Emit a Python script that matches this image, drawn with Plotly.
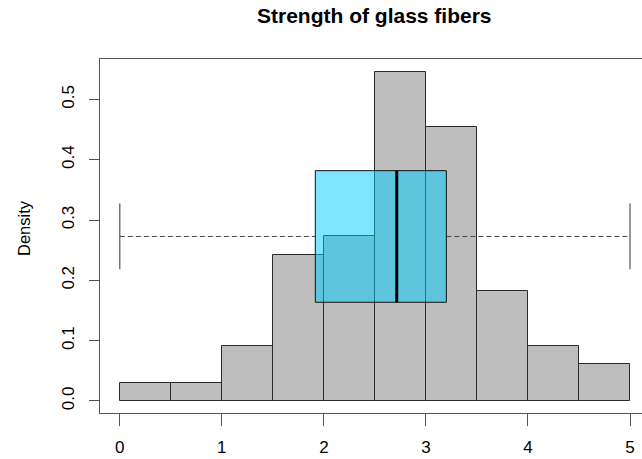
import plotly.graph_objects as go

# Histogram of fibre strength (density scale)
bin_edges = [0.0, 0.5, 1.0, 1.5, 2.0, 2.5, 3.0, 3.5, 4.0, 4.5, 5.0]
densities = [0.0303, 0.0303, 0.0909, 0.2424, 0.2727, 0.5455, 0.4545, 0.1818, 0.0909, 0.0606]

# Five-number summary drawn as a horizontal box plot over the histogram
whisker_low = 0.0
q1 = 1.916
median = 2.714
q3 = 3.20
whisker_high = 5.0

x_ticks = [0, 1, 2, 3, 4, 5]
y_ticks = [0.0, 0.1, 0.2, 0.3, 0.4, 0.5]
y_tick_text = ["0.0", "0.1", "0.2", "0.3", "0.4", "0.5"]

FONT = "Liberation Sans, Arial, sans-serif"
W, H = 642, 459
ML, MR, MT, MB = 100, 0, 59, 46
plot_h = H - MT - MB

centers = [(a + b) / 2 for a, b in zip(bin_edges[:-1], bin_edges[1:])]
widths = [b - a for a, b in zip(bin_edges[:-1], bin_edges[1:])]

# box placement: centred at half the tallest bar, like boxplot(add=TRUE, at=...)
top = max(densities)
y_mid = top / 2
box_half = 0.2 * top
cap_half = 0.1 * top

fig = go.Figure()

fig.add_trace(go.Bar(
    x=centers, y=densities, width=widths,
    marker=dict(color="#BEBEBE", line=dict(color="#2a2a2a", width=1)),
    hoverinfo="skip", showlegend=False,
))

# box body
fig.add_trace(go.Scatter(
    x=[q1, q3, q3, q1, q1],
    y=[y_mid - box_half, y_mid - box_half, y_mid + box_half, y_mid + box_half, y_mid - box_half],
    mode="lines", fill="toself", fillcolor="rgba(0,204,255,0.5)",
    line=dict(color="#111111", width=1), hoverinfo="skip", showlegend=False,
))

# median
fig.add_trace(go.Scatter(
    x=[median, median], y=[y_mid - box_half, y_mid + box_half],
    mode="lines", line=dict(color="black", width=3),
    hoverinfo="skip", showlegend=False,
))

# dashed whiskers
for a, b in [(whisker_low, q1), (q3, whisker_high)]:
    fig.add_trace(go.Scatter(
        x=[a, b], y=[y_mid, y_mid], mode="lines",
        line=dict(color="#444444", width=1, dash="5px,3px"),
        hoverinfo="skip", showlegend=False,
    ))

# whisker staples
for w in [whisker_low, whisker_high]:
    fig.add_trace(go.Scatter(
        x=[w, w], y=[y_mid - cap_half, y_mid + cap_half], mode="lines",
        line=dict(color="#555555", width=1.2),
        hoverinfo="skip", showlegend=False,
    ))

x0_px, x5_px = 119.8, 630.0
ppu = (x5_px - x0_px) / 5.0
x_range = [(ML - x0_px) / ppu, (W - MR - x0_px) / ppu]

fig.update_layout(
    width=W, height=H,
    margin=dict(l=ML, r=MR, t=MT, b=MB),
    paper_bgcolor="white", plot_bgcolor="white",
    bargap=0,
    font=dict(family=FONT, color="black"),
    xaxis=dict(
        range=x_range, tickvals=x_ticks, ticktext=[str(v) for v in x_ticks],
        ticks="outside", ticklen=12, tickcolor="#555555", tickwidth=1,
        ticklabelstandoff=6, automargin=False,
        showline=True, mirror=True, linecolor="#555555", linewidth=1.2,
        showgrid=False, zeroline=False,
        tickfont=dict(size=17, family=FONT, color="black"),
    ),
    yaxis=dict(
        range=[-0.02, 0.567], tickvals=y_ticks, ticktext=y_tick_text,
        tickangle=-90,
        ticks="outside", ticklen=10, tickcolor="#555555", tickwidth=1,
        ticklabelstandoff=8, automargin=False,
        showline=True, mirror=False, linecolor="#555555", linewidth=1.2,
        showgrid=False, zeroline=False,
        tickfont=dict(size=17, family=FONT, color="black"),
    ),
    annotations=[
        dict(text="<b>Strength of glass fibers</b>", xref="paper", yref="paper",
             x=(374 - ML) / (W - ML - MR), y=(H - MB - 15) / plot_h,
             xanchor="center", yanchor="middle", showarrow=False,
             font=dict(size=21, family=FONT, color="black")),
        dict(text="Density", xref="paper", yref="paper",
             x=(24 - ML) / (W - ML - MR), y=(H - MB - 228) / plot_h,
             xanchor="center", yanchor="middle", textangle=-90, showarrow=False,
             font=dict(size=16.5, family=FONT, color="black")),
    ],
)

fig.write_html("out.html")
